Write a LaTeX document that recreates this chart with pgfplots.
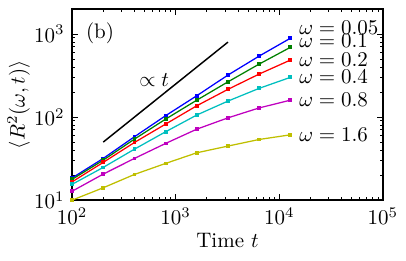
\documentclass[border=0pt]{standalone}
\usepackage{pgfplots}
\pgfplotsset{compat=1.18}
\definecolor{mblue}{rgb}{0,0,1}
\definecolor{mgreen}{rgb}{0,0.5,0}
\definecolor{mred}{rgb}{1,0,0}
\definecolor{mcyan}{rgb}{0,0.75,0.75}
\definecolor{mmag}{rgb}{0.75,0,0.75}
\definecolor{myel}{rgb}{0.75,0.75,0}
\begin{document}
\begin{tikzpicture}
\begin{axis}[
  scale only axis,
  width=148pt, height=91pt,
  xmode=log, ymode=log,
  xmin=100, xmax=100000, ymin=10, ymax=2000,
  axis line style={line width=0.8pt},
  major tick length=3pt, minor tick length=1.6pt,
  tick style={black, line width=0.5pt},
  xlabel={Time $t$},
  xlabel style={yshift=3pt},
  ylabel={$\langle R^2(\omega,t)\rangle$},
  ylabel style={at={(axis description cs:-0.172,0.5)}, anchor=center},
  every axis plot/.append style={line width=0.6pt, mark=square*, mark size=0.6pt},
  clip=true,
]
\addplot[mblue, mark options={fill=mblue}] coordinates {(100,18.5)(200,31.8)(400,58)(800,104)(1600,181)(3200,321)(6400,543)(12800,890)};
\addplot[mgreen, mark options={fill=mgreen}] coordinates {(100,17.8)(200,30.3)(400,54.3)(800,94.6)(1600,160)(3200,266)(6400,435)(12800,692)};
\addplot[mred, mark options={fill=mred}] coordinates {(100,16.6)(200,28.5)(400,49.5)(800,82.4)(1600,137)(3200,216)(6400,330)(12800,486)};
\addplot[mcyan, mark options={fill=mcyan}] coordinates {(100,15.5)(200,24.8)(400,41.1)(800,66.6)(1600,106)(3200,156)(6400,222)(12800,301)};
\addplot[mmag, mark options={fill=mmag}] coordinates {(100,12.8)(200,20.6)(400,31.8)(800,48.2)(1600,71.6)(3200,98)(6400,129)(12800,160)};
\addplot[myel, mark options={fill=myel}] coordinates {(100,10)(200,14.1)(400,20.4)(800,27.7)(1600,37.2)(3200,44.8)(6400,53.8)(12800,61.2)};
\addplot[black, no markers, line width=0.7pt] coordinates {(200,50)(3200,800)};
\node at (axis cs:620,280) {$\propto t$};
\node at (rel axis cs:0.09,0.874) {(b)};
\node[anchor=west, inner sep=0pt] at (axis cs:15450,1200) {$\omega = 0.05$};
\node[anchor=west, inner sep=0pt] at (axis cs:15450,825) {$\omega = 0.1$};
\node[anchor=west, inner sep=0pt] at (axis cs:15450,486) {$\omega = 0.2$};
\node[anchor=west, inner sep=0pt] at (axis cs:15450,306) {$\omega = 0.4$};
\node[anchor=west, inner sep=0pt] at (axis cs:15450,163) {$\omega = 0.8$};
\node[anchor=west, inner sep=0pt] at (axis cs:15450,61.7) {$\omega = 1.6$};
\end{axis}
\pgfresetboundingbox
\useasboundingbox ([shift={(-34.3pt,-28.6pt)}]current axis.south west) rectangle ([shift={(11pt,4.3pt)}]current axis.north east);
\end{tikzpicture}
\end{document}
